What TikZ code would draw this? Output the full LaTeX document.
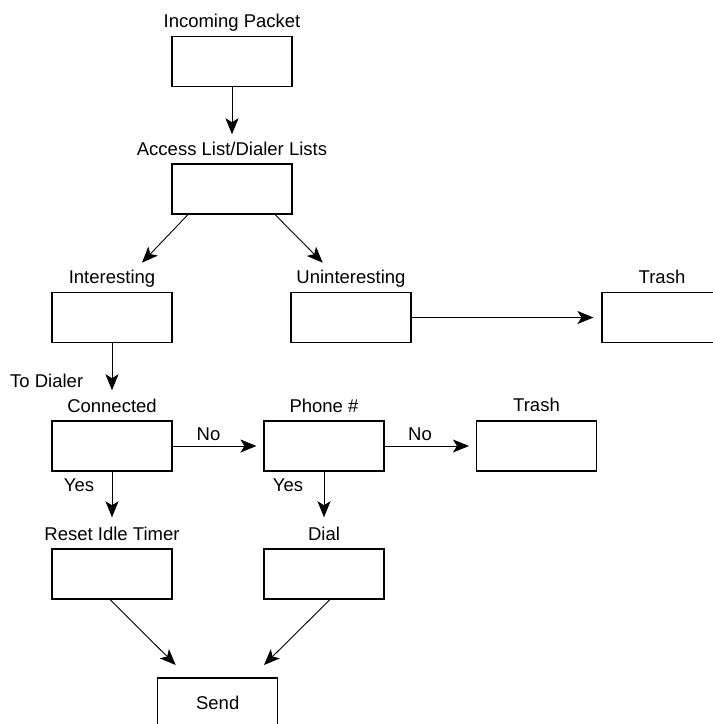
\documentclass[tikz,border=0pt]{standalone}
\usepackage{fontspec}
\setmainfont{Liberation Sans}
\usetikzlibrary{arrows.meta}
\begin{document}
\begin{tikzpicture}[x=1pt,y=-1pt,
  box/.style={draw,line width=1.1pt,minimum width=120pt,minimum height=50pt,inner sep=0pt},
  lbl/.style={font=\fontsize{18.5}{22}\selectfont,inner sep=0pt,anchor=base,text height=13pt,text depth=4pt},
  arr/.style={line width=0.9pt,-{Stealth[length=16pt,width=13pt,inset=4pt]}}]
\useasboundingbox (0,0) rectangle (713,724);
% boxes
\node[box] (inc) at (232,61.5) {};
\node[box] (acc) at (232,189) {};
\node[box] (int) at (112,317.5) {};
\node[box] (unint) at (351,317.5) {};
\node[box] (trash1) at (662,317.5) {};
\node[box] (conn) at (112,446) {};
\node[box] (phone) at (324,446) {};
\node[box] (trash2) at (536.5,446) {};
\node[box] (reset) at (112,574) {};
\node[box] (dial) at (324,574) {};
\node[box,font=\fontsize{18.5}{22}\selectfont,text height=13pt,text depth=0pt] (send) at (217.7,703) {Send};
% labels
\node[lbl] (incL) at ([yshift=8pt]inc.north) {Incoming Packet};
\node[lbl] (accL) at ([yshift=8pt]acc.north) {Access List/Dialer Lists};
\node[lbl] (intL) at ([yshift=8.5pt]int.north) {Interesting};
\node[lbl] (unintL) at ([yshift=8.5pt]unint.north) {Uninteresting};
\node[lbl] (trash1L) at ([yshift=8pt]trash1.north) {Trash};
\node[lbl] (connL) at ([yshift=8pt]conn.north) {Connected};
\node[lbl] (phoneL) at ([yshift=8pt]phone.north) {Phone \#};
\node[lbl] (trash2L) at ([yshift=8.5pt]trash2.north) {Trash};
\node[lbl] (resetL) at ([yshift=8pt]reset.north) {Reset Idle Timer};
\node[lbl] (dialL) at ([yshift=8pt]dial.north) {Dial};
% connector labels
\node[lbl,anchor=base west] (todial) at (10,387) {To Dialer};
\node[lbl] (no1) at (208.5,440) {No};
\node[lbl] (no2) at (420,440) {No};
\node[lbl] (yes1) at (79,491) {Yes};
\node[lbl] (yes2) at (288,491) {Yes};
% connectors
\draw[arr,shorten >=8pt] (inc.south) -- (inc.south |- accL.north);
\coordinate (t1) at (142,262.7);
\coordinate (t2) at (322.7,262.7);
\draw[arr] ([xshift=-44pt]acc.south) -- (t1);
\draw[arr] ([xshift=43pt]acc.south) -- (t2);
\draw[arr,shorten >=8pt] (unint.east) -- (trash1.west);
\draw[arr,shorten >=9pt] (int.south) -- (int.south |- connL.north);
\draw[arr,shorten >=7pt] (conn.east) -- (phone.west);
\draw[arr,shorten >=7pt] (phone.east) -- (trash2.west);
\draw[arr,shorten >=10pt] (conn.south) -- (conn.south |- resetL.north);
\draw[arr,shorten >=10pt] (phone.south) -- (phone.south |- dialL.north);
\coordinate (t3) at (175.7,665);
\coordinate (t4) at (264,665);
\draw[arr] ([xshift=-2pt]reset.south) -- (t3);
\draw[arr] ([xshift=6pt]dial.south) -- (t4);
\end{tikzpicture}
\end{document}
